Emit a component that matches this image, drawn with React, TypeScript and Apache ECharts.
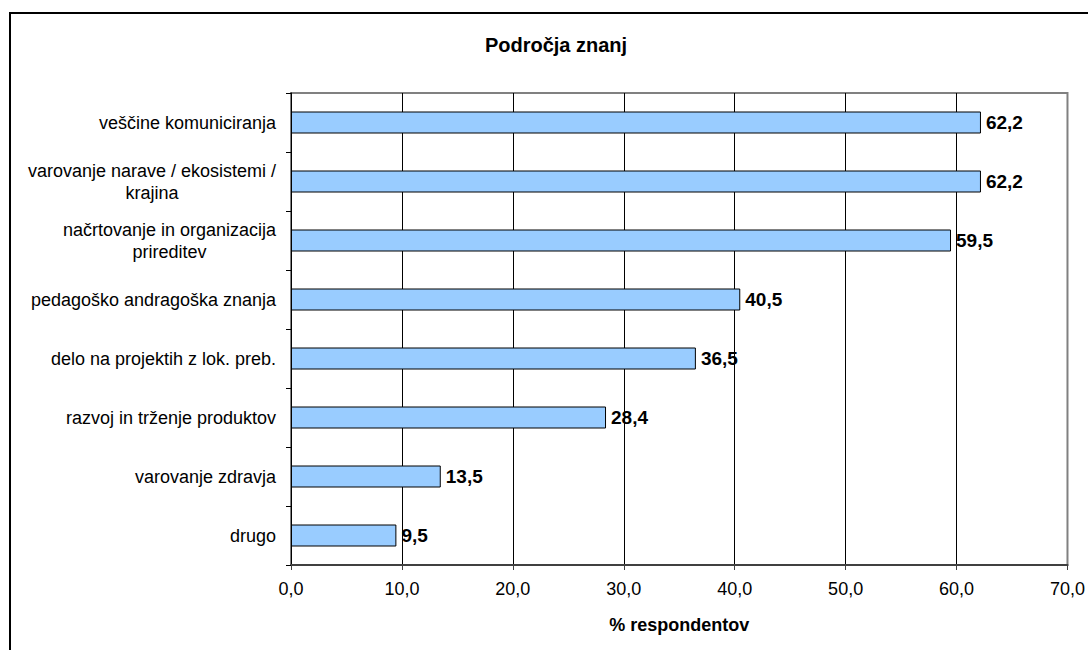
import React, { useEffect, useRef } from "react";
import * as echarts from "echarts";

const chartTitle = "Področja znanj";
const axisName = "% respondentov";
const categories = [
  "veščine komuniciranja",
  "varovanje narave / ekosistemi /\nkrajina",
  "načrtovanje in organizacija\nprireditev",
  "pedagoško andragoška znanja",
  "delo na projektih z lok. preb.",
  "razvoj in trženje produktov",
  "varovanje zdravja",
  "drugo",
];
const values = [62.2, 62.2, 59.5, 40.5, 36.5, 28.4, 13.5, 9.5];
const xMin = 0;
const xMax = 70;
const xInterval = 10;

const FONT = "'Liberation Sans', Arial, sans-serif";

function measure(text: string, font: string): number {
  const c = document.createElement("canvas").getContext("2d");
  if (!c) return text.length * 9;
  c.font = font;
  return c.measureText(text).width;
}

export default function App() {
  const ref = useRef<HTMLDivElement>(null);
  useEffect(() => {
    if (!ref.current) return;
    const chart = echarts.init(ref.current, null, { renderer: "svg" });
    const rich: Record<string, any> = {};
    categories.forEach((c, i) => {
      const w = Math.max(...c.split("\n").map((l) => measure(l, `18px ${FONT}`)));
      rich["l" + i] = {
        width: Math.ceil(w) + 1,
        align: "center",
        fontSize: 18,
        fontFamily: FONT,
        color: "#000",
        lineHeight: 22,
      };
    });
    const nSplit = Math.round((xMax - xMin) / xInterval) + 1;
    const splitColors = Array.from({ length: nSplit }, (_, i) =>
      i === nSplit - 1 ? "#808080" : "#000"
    );
    chart.setOption({
      animation: false,
      backgroundColor: "#fff",
      textStyle: { fontFamily: FONT },
      grid: {
        left: 291,
        right: 20,
        top: 93,
        bottom: 85,
        show: true,
        borderColor: "#808080",
        borderWidth: 2,
        backgroundColor: "transparent",
      },
      graphic: [
        {
          type: "rect",
          shape: { x: 10, y: 13, width: 1200, height: 800 },
          style: { fill: "none", stroke: "#000", lineWidth: 2 },
          silent: true,
        },
        {
          type: "text",
          x: 556,
          y: 45,
          style: {
            text: chartTitle,
            font: `bold 20px ${FONT}`,
            fill: "#000",
            textAlign: "center",
            textVerticalAlign: "middle",
          },
        },
      ],
      xAxis: {
        type: "value",
        min: xMin,
        max: xMax,
        interval: xInterval,
        name: axisName,
        nameLocation: "middle",
        nameGap: 51,
        nameTextStyle: { fontSize: 18, fontWeight: "bold", color: "#000", fontFamily: FONT },
        axisLine: { show: true, lineStyle: { color: "#404040", width: 2 } },
        axisTick: { show: true, length: 5, lineStyle: { color: "#404040", width: 1 } },
        axisLabel: {
          fontSize: 18,
          color: "#000",
          fontFamily: FONT,
          margin: 15,
          formatter: (v: number) => v.toFixed(1).replace(".", ","),
        },
        splitLine: { show: true, lineStyle: { color: splitColors, width: 1 } },
      },
      yAxis: {
        type: "category",
        data: categories,
        inverse: true,
        axisLine: { show: true, lineStyle: { color: "#000", width: 1 } },
        axisTick: { show: true, length: 5, lineStyle: { color: "#000" } },
        axisLabel: {
          margin: 14,
          formatter: (v: string, i: number) =>
            v
              .split("\n")
              .map((l) => `{l${i}|${l}}`)
              .join("\n"),
          rich,
        },
        splitLine: { show: false },
      },
      series: [
        {
          type: "bar",
          data: values,
          barWidth: 22,
          itemStyle: { color: "#99CCFF", borderColor: "#000", borderWidth: 1 },
          label: {
            show: true,
            position: "right",
            distance: 5,
            fontSize: 19,
            fontWeight: "bold",
            color: "#000",
            fontFamily: FONT,
            formatter: (p: any) => Number(p.value).toFixed(1).replace(".", ","),
          },
        },
      ],
    });
    return () => chart.dispose();
  }, []);
  return (
    <div
      ref={ref}
      style={{ position: "fixed", left: 0, top: 0, width: 1088, height: 650 }}
    />
  );
}
